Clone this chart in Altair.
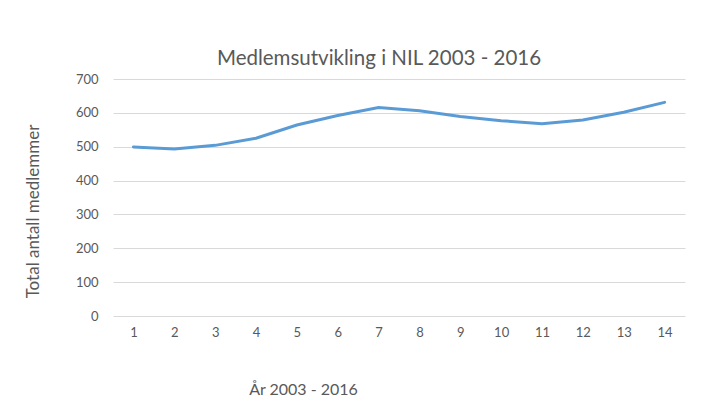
import altair as alt
import pandas as pd

years = list(range(1, 15))
members = [499, 493, 504, 525, 564, 592, 616, 606, 589, 577, 568, 579, 602, 631]

df = pd.DataFrame({"aar": years, "medlemmer": members})

FONT = "Lato"
GRAY = "#595959"

chart = alt.Chart(df).mark_line(color="#5B9BD5", strokeWidth=3, strokeCap="round").encode(
    x=alt.X("aar:O", title="År 2003 - 2016",
            scale=alt.Scale(paddingInner=0, paddingOuter=0.5),
            axis=alt.Axis(labelAngle=0, ticks=False, domain=False, labelPadding=10,
                          labelFontSize=13, labelColor=GRAY, labelFont=FONT,
                          titleFont=FONT, titleFontSize=16, titleFontWeight="normal",
                          titleColor=GRAY, titleX=190, titleY=73, titleBaseline="middle",
                          titleAnchor="start", titleAlign="center")),
    y=alt.Y("medlemmer:Q", title="Total antall medlemmer",
            scale=alt.Scale(domain=[0, 700], nice=False),
            axis=alt.Axis(values=[0, 100, 200, 300, 400, 500, 600, 700], ticks=False,
                          domain=False, grid=True, gridColor="#D9D9D9", labelPadding=15,
                          labelFontSize=13, labelColor=GRAY, labelFont=FONT,
                          titleFont=FONT, titleFontSize=17, titleFontWeight="normal",
                          titleColor=GRAY, titleX=-80, titleY=132, titleAngle=-90,
                          titleBaseline="middle", titleAlign="center", titleAnchor="start")),
).properties(
    width=572,
    height=237,
    title=alt.TitleParams("Medlemsutvikling i NIL 2003 - 2016", font=FONT, fontSize=20.5,
                          fontWeight="normal", color=GRAY, anchor="middle", offset=4, dx=-20),
    autosize=alt.AutoSizeParams(type="none"),
    padding={"left": 105, "top": 71, "right": 8, "bottom": 82},
).configure_view(stroke=None).configure_axisX(grid=False)

chart.save("out.html", embed_options={"renderer": "svg", "actions": False})
